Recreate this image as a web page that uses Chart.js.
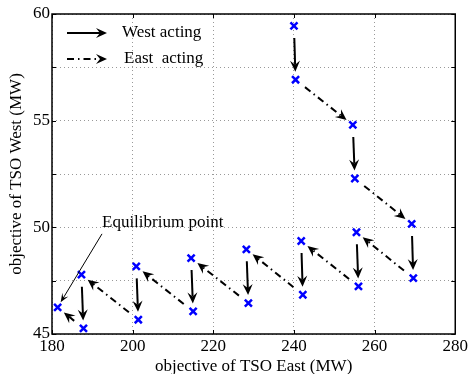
<!DOCTYPE html>
<html>
<head>
<meta charset="utf-8">
<script src="https://cdn.jsdelivr.net/npm/chart.js@4"></script>
<style>
  html, body { margin: 0; padding: 0; background: #fff; }
  #wrap { width: 470px; height: 374px; }
</style>
</head>
<body>
<div id="wrap"><canvas id="chart" width="470" height="374"></canvas></div>
<script>
// objective values along the best-response path
const eastObj = [240.0, 240.4, 254.6, 255.1, 269.2, 269.6, 255.5, 256.0, 241.8, 242.2,
                 228.2, 228.7, 214.5, 215.0, 200.9, 201.4, 187.3, 187.8, 181.4];
const westObj = [59.44, 56.92, 54.80, 52.29, 50.16, 47.62, 49.77, 47.23, 49.36, 46.84,
                 48.97, 46.45, 48.56, 46.06, 48.17, 45.67, 47.78, 45.26, 46.25];
// who moves from point i to point i+1
const moves = ["West", "East", "West", "East", "West", "East", "West", "East", "West",
               "East", "West", "East", "West", "East", "West", "East", "West", "East"];
const legendLabels = ["West acting", "East  acting"];
const annotationText = "Equilibrium point";
const yLabels = [45, 50, 55, 60];

const FONT = "'Liberation Serif', 'DejaVu Serif', serif";
const DASHDOT = [7, 4, 1.5, 4];

function arrowHead(ctx, tx, ty, ux, uy, len, half) {
  const nx = -uy, ny = ux;
  ctx.beginPath();
  ctx.moveTo(tx, ty);
  ctx.lineTo(tx - len * ux + half * nx, ty - len * uy + half * ny);
  ctx.lineTo(tx - (len - 4) * ux, ty - (len - 4) * uy);
  ctx.lineTo(tx - len * ux - half * nx, ty - len * uy - half * ny);
  ctx.closePath();
  ctx.fill();
}

function arrow(ctx, x0, y0, x1, y1, dash, width, len, half) {
  const dx = x1 - x0, dy = y1 - y0;
  const d = Math.hypot(dx, dy);
  const ux = dx / d, uy = dy / d;
  ctx.save();
  ctx.strokeStyle = "#000";
  ctx.fillStyle = "#000";
  ctx.lineWidth = width;
  ctx.setLineDash(dash);
  ctx.beginPath();
  ctx.moveTo(x0, y0);
  ctx.lineTo(x1 - (len - 4) * ux, y1 - (len - 4) * uy);
  ctx.stroke();
  ctx.setLineDash([]);
  arrowHead(ctx, x1, y1, ux, uy, len, half);
  ctx.restore();
}

const pathPlugin = {
  id: "pathArrows",
  beforeDatasetsDraw(chart) {
    const ctx = chart.ctx;
    const xs = chart.scales.x, ys = chart.scales.y;
    for (let i = 0; i < moves.length; i++) {
      const ax = xs.getPixelForValue(eastObj[i]), ay = ys.getPixelForValue(westObj[i]);
      const bx = xs.getPixelForValue(eastObj[i + 1]), by = ys.getPixelForValue(westObj[i + 1]);
      const d = Math.hypot(bx - ax, by - ay);
      const ux = (bx - ax) / d, uy = (by - ay) / d;
      const s0 = 12, s1 = 8;
      const dash = moves[i] === "West" ? [] : DASHDOT;
      arrow(ctx, ax + s0 * ux, ay + s0 * uy, bx - s1 * ux, by - s1 * uy, dash, 2, 11, 5);
    }
  },
  afterDraw(chart) {
    const ctx = chart.ctx;
    const a = chart.chartArea;
    const xs = chart.scales.x, ys = chart.scales.y;
    ctx.save();
    // inner tick marks on all four sides
    ctx.strokeStyle = "#000";
    ctx.lineWidth = 1;
    ctx.beginPath();
    xs.ticks.forEach(t => {
      const px = Math.round(xs.getPixelForValue(t.value)) + 0.5;
      ctx.moveTo(px, a.bottom); ctx.lineTo(px, a.bottom - 4);
      ctx.moveTo(px, a.top); ctx.lineTo(px, a.top + 4);
    });
    ys.ticks.forEach(t => {
      const py = Math.round(ys.getPixelForValue(t.value)) + 0.5;
      ctx.moveTo(a.left, py); ctx.lineTo(a.left + 4, py);
      ctx.moveTo(a.right, py); ctx.lineTo(a.right - 4, py);
    });
    ctx.stroke();
    // frame
    ctx.lineWidth = 1.5;
    ctx.strokeRect(a.left, a.top, a.right - a.left, a.bottom - a.top);

    // legend
    const lx = a.left + 15, ly = a.top;
    arrow(ctx, lx, ly + 19, lx + 40, ly + 19, [], 2, 11, 5);
    arrow(ctx, lx, ly + 45, lx + 40, ly + 45, DASHDOT, 2, 11, 5);
    ctx.fillStyle = "#000";
    ctx.font = "17px " + FONT;
    ctx.textBaseline = "middle";
    ctx.textAlign = "left";
    ctx.fillText(legendLabels[0], lx + 55, ly + 19);
    ctx.fillText(legendLabels[1], lx + 57, ly + 45);

    // equilibrium annotation
    const n = eastObj.length - 1;
    const ex = xs.getPixelForValue(eastObj[n]), ey = ys.getPixelForValue(westObj[n]);
    const tx = a.left + 50, ty = ys.getPixelForValue(49.6);
    ctx.fillText(annotationText, tx, ty - 13);
    arrow(ctx, tx, ty - 2, ex + 3, ey - 5, [], 1, 9, 3.5);
    ctx.restore();
  }
};

new Chart(document.getElementById("chart"), {
  type: "scatter",
  data: {
    datasets: [{
      data: eastObj.map((x, i) => ({ x: x, y: westObj[i] })),
      pointStyle: "crossRot",
      radius: 5,
      hoverRadius: 5,
      borderColor: "#0000ff",
      backgroundColor: "#0000ff",
      borderWidth: 2.5
    }]
  },
  plugins: [pathPlugin],
  options: {
    responsive: false,
    animation: false,
    events: [],
    layout: { padding: { top: 14, right: 14, left: 0, bottom: 0 } },
    plugins: { legend: { display: false }, tooltip: { enabled: false } },
    scales: {
      x: {
        type: "linear",
        min: 180, max: 280,
        afterFit(s) { s.height = 40; },
        ticks: { stepSize: 20, color: "#000", font: { family: FONT, size: 17 }, padding: 2, maxRotation: 0 },
        grid: { color: "#999", drawTicks: false },
        border: { display: false, dash: [1, 3] },
        title: { display: true, text: "objective of TSO East (MW)", color: "#000",
                 font: { family: FONT, size: 17 }, padding: { top: 0, bottom: -3 } }
      },
      y: {
        min: 45, max: 60,
        afterFit(s) { s.width = 52; },
        ticks: {
          stepSize: 2.5, color: "#000", font: { family: FONT, size: 17 }, padding: 2,
          callback: v => (yLabels.includes(v) ? v : "")
        },
        grid: { color: "#999", drawTicks: false },
        border: { display: false, dash: [1, 3] },
        title: { display: true, text: "objective of TSO West (MW)", color: "#000",
                 font: { family: FONT, size: 17 }, padding: { top: 6, bottom: 0 } }
      }
    }
  }
});
</script>
</body>
</html>
